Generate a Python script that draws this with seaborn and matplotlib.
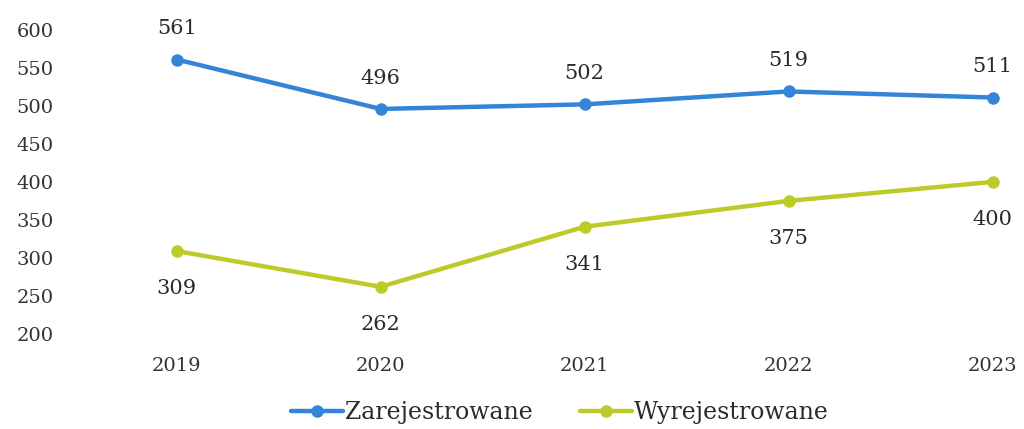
import seaborn as sns
import matplotlib.pyplot as plt
import pandas as pd

years = [2019, 2020, 2021, 2022, 2023]
zarejestrowane = [561, 496, 502, 519, 511]
wyrejestrowane = [309, 262, 341, 375, 400]

df = pd.DataFrame({
    "rok": years * 2,
    "liczba": zarejestrowane + wyrejestrowane,
    "seria": ["Zarejestrowane"] * 5 + ["Wyrejestrowane"] * 5,
})

sns.set_style("white")
plt.rcParams['font.family'] = ['DejaVu Serif']
kolory = {"Zarejestrowane": "#3484d8", "Wyrejestrowane": "#bccb2a"}

fig = plt.figure(figsize=(10.24, 4.29), dpi=100)
ax = fig.add_axes([140 / 1024, 1 - 340 / 429, 875 / 1024, 320 / 429])

sns.lineplot(data=df, x="rok", y="liczba", hue="seria", palette=kolory,
             marker="o", markersize=9, linewidth=3.2, markeredgewidth=0, ax=ax)

for x, y in zip(years, zarejestrowane):
    ax.annotate(str(y), (x, y), xytext=(0, 22), textcoords="offset points",
                ha="center", va="center", fontsize=15, color="#2b2b2b")
for x, y in zip(years, wyrejestrowane):
    ax.annotate(str(y), (x, y), xytext=(0, -27), textcoords="offset points",
                ha="center", va="center", fontsize=15, color="#2b2b2b")

ax.set_xlim(2018.82, 2023.11)
ax.set_ylim(192, 613)
ax.set_yticks(range(200, 601, 50))
ax.set_xticks(years)
ax.tick_params(axis="both", labelsize=14, colors="#333333", length=0)
ax.tick_params(axis="x", pad=12)
ax.tick_params(axis="y", pad=62)
ax.set_xlabel("")
ax.set_ylabel("")
sns.despine(left=True, bottom=True)

handles, labels = ax.get_legend_handles_labels()
ax.legend(handles, labels, loc="center", bbox_to_anchor=(560 / 1024, 1 - 413 / 429),
          bbox_transform=fig.transFigure, ncol=2, frameon=False, fontsize=17,
          handlelength=2.2, handletextpad=0.1, columnspacing=2.0,
          labelcolor="#2b2b2b")

fig.savefig("out.png", dpi=100)
